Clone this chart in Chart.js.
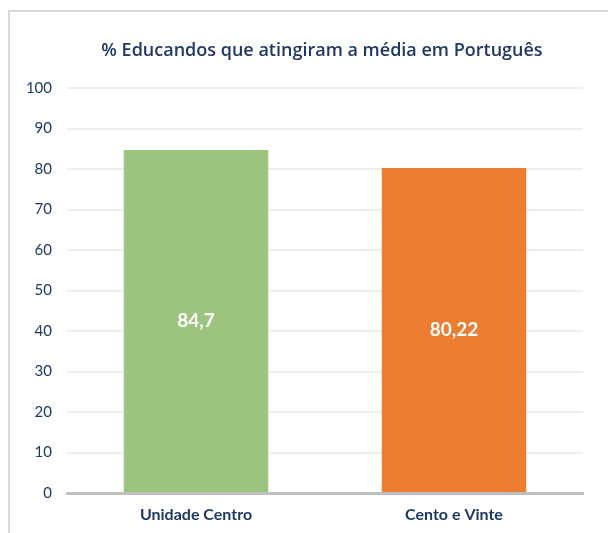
<!DOCTYPE html>
<html>
<head>
<meta charset="utf-8">
<script src="https://cdn.jsdelivr.net/npm/chart.js@4"></script>
<style>
  html, body { margin: 0; padding: 0; background: #ffffff; }
  #wrap { position: relative; width: 608px; height: 533px; }
</style>
</head>
<body>
<div id="wrap"><canvas id="c" width="608" height="533"></canvas></div>
<script>
const categories = ["Unidade Centro", "Cento e Vinte"];
const values = [84.7, 80.22];
const valueLabels = ["84,7", "80,22"];
const barColors = ["#9DC47E", "#ED7D31"];
const titleText = "% Educandos que atingiram a média em Português";
const yTicks = [0, 10, 20, 30, 40, 50, 60, 70, 80, 90, 100];

const navy = "#1F3864";
const fontFamily = "Lato, 'Open Sans', 'Liberation Sans', sans-serif";
const titleFamily = "'Open Sans', Lato, sans-serif";

const frame = {
  id: 'frame',
  beforeDraw(chart) {
    const ctx = chart.ctx;
    ctx.save();
    ctx.fillStyle = "#D9D9D9";
    ctx.fillRect(8, 10, 600, 2);
    ctx.fillRect(8, 10, 2, 523);
    ctx.restore();
  }
};

const chartTitle = {
  id: 'chartTitle',
  afterDraw(chart) {
    const ctx = chart.ctx;
    const a = chart.chartArea;
    ctx.save();
    ctx.fillStyle = navy;
    ctx.font = "600 18px " + titleFamily;
    ctx.textAlign = "center";
    ctx.textBaseline = "alphabetic";
    ctx.fillText(titleText, (a.left + a.right) / 2 - 3, 56);
    ctx.restore();
  }
};

const barLabels = {
  id: 'barLabels',
  afterDatasetsDraw(chart) {
    const ctx = chart.ctx;
    const meta = chart.getDatasetMeta(0);
    ctx.save();
    ctx.fillStyle = "#FFFFFF";
    ctx.font = "bold 19px " + fontFamily;
    ctx.textAlign = "center";
    ctx.textBaseline = "middle";
    meta.data.forEach((bar, i) => {
      const y = (bar.y + bar.base) / 2;
      ctx.fillText(valueLabels[i], bar.x, y);
    });
    ctx.restore();
  }
};

new Chart(document.getElementById('c'), {
  type: 'bar',
  data: {
    labels: categories,
    datasets: [{
      data: values,
      backgroundColor: barColors,
      borderWidth: 0,
      categoryPercentage: 1.0,
      barPercentage: 0.56
    }]
  },
  options: {
    responsive: false,
    animation: false,
    layout: { padding: { left: 0, right: 25, top: 88, bottom: 0 } },
    plugins: {
      legend: { display: false },
      tooltip: { enabled: false },
      title: { display: false }
    },
    scales: {
      x: {
        afterFit(scale) { scale.height = 40; },
        grid: { display: false, drawTicks: false },
        border: { display: true, color: "#BFBFBF", width: 3 },
        ticks: {
          color: navy,
          font: { family: fontFamily, size: 16, weight: 'bold' },
          padding: 12
        }
      },
      y: {
        min: 0,
        max: 100,
        afterFit(scale) { scale.width = 67; },
        afterBuildTicks(scale) { scale.ticks = yTicks.map(v => ({ value: v })); },
        grid: { color: "#EEEEEE", lineWidth: 2, drawTicks: false },
        border: { display: false },
        ticks: {
          color: navy,
          font: { family: fontFamily, size: 15 },
          padding: 15
        }
      }
    }
  },
  plugins: [frame, chartTitle, barLabels]
});
</script>
</body>
</html>
